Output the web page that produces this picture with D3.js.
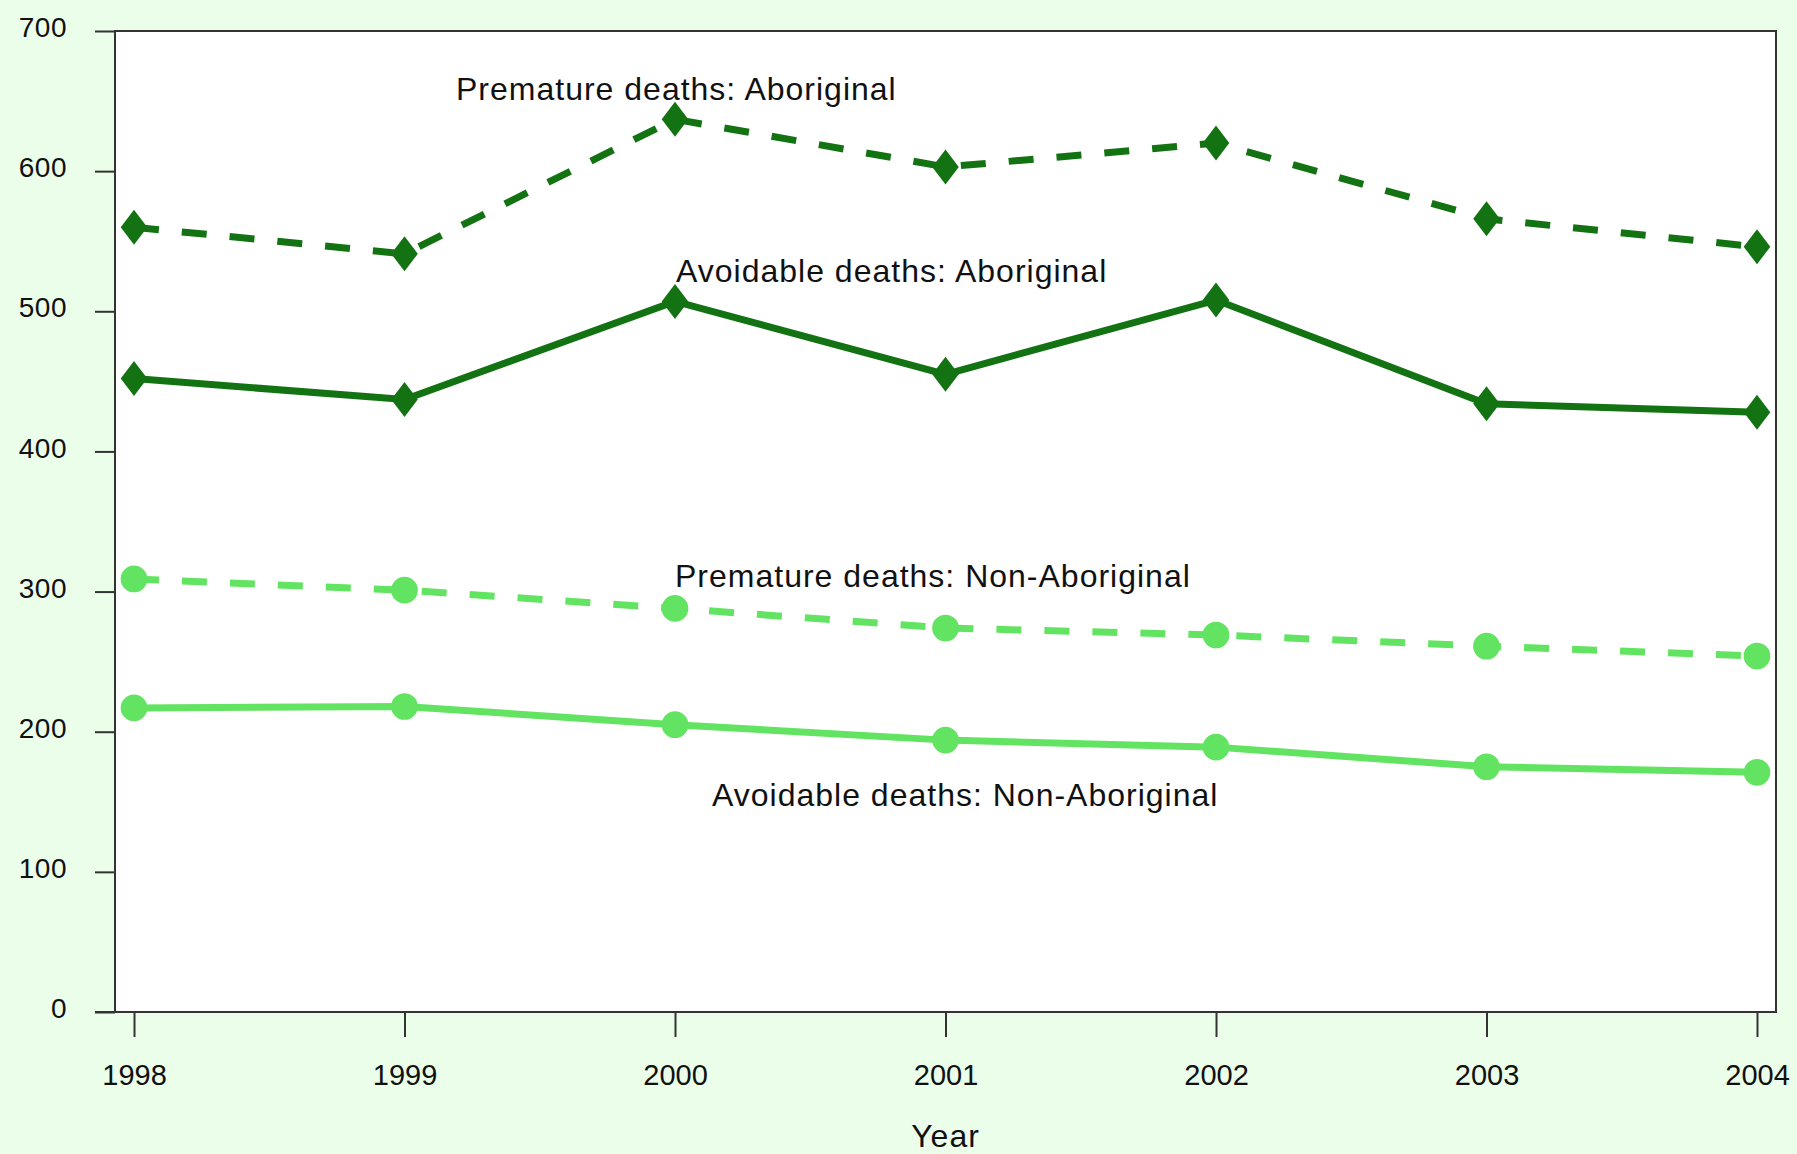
<!DOCTYPE html>
<html>
<head>
<meta charset="utf-8">
<script src="https://cdn.jsdelivr.net/npm/d3@7"></script>
<style>
  html, body { margin: 0; padding: 0; background: #eafeea; }
  svg { display: block; font-family: "Liberation Sans", Arial, sans-serif; }
</style>
</head>
<body>
<div id="chart"></div>
<script>
// data
const years = [1998, 1999, 2000, 2001, 2002, 2003, 2004];
const prematureAboriginal = [560, 541, 637, 603, 620, 566, 546];
const avoidableAboriginal = [452, 437, 507, 455, 508, 434, 428];
const prematureNonAboriginal = [309, 301, 288, 274, 269, 261, 254];
const avoidableNonAboriginal = [217, 218, 205, 194, 189, 175, 171];
const yTicks = [0, 100, 200, 300, 400, 500, 600, 700];

const seriesNames = [
    "Premature deaths: Aboriginal",
    "Avoidable deaths: Aboriginal",
    "Premature deaths: Non-Aboriginal",
    "Avoidable deaths: Non-Aboriginal"
];

const W = 1797, H = 1154;
const frame = {left: 115, right: 1776, top: 31, bottom: 1012};
const darkGreen = "#137313", lightGreen = "#62e462";

const svg = d3.select("#chart").append("svg")
    .attr("width", W)
    .attr("height", H);

svg.append("rect")
    .attr("width", W).attr("height", H)
    .attr("fill", "#eafeea");

// plot area
svg.append("rect")
    .attr("x", frame.left).attr("y", frame.top)
    .attr("width", frame.right - frame.left)
    .attr("height", frame.bottom - frame.top)
    .attr("fill", "#ffffff")
    .attr("stroke", "#333")
    .attr("stroke-width", 2);

var x = d3.scaleLinear()
    .domain([1998, 2004])
    .range([134, 1757]);

var y = d3.scaleLinear()
    .domain([0, 700])
    .range([frame.bottom, frame.top]);

// Y axis
const yAxis = svg.append("g")
    .attr("transform", `translate(${frame.left},0)`)
    .call(d3.axisLeft(y).tickValues(yTicks).tickSize(20).tickFormat(d3.format("d")));
yAxis.select(".domain").remove();
yAxis.selectAll(".tick line").attr("stroke", "#333").attr("stroke-width", 2);
yAxis.selectAll(".tick text")
    .attr("x", -48)
    .attr("dy", "0.2em")
    .attr("fill", "#111")
    .style("font-size", "28px")
    .style("letter-spacing", "0.5px")
    .style("font-family", "'Liberation Sans', Arial, sans-serif");

// X axis
const xAxis = svg.append("g")
    .attr("transform", `translate(0,${frame.bottom})`)
    .call(d3.axisBottom(x).tickValues(years).tickSize(25).tickFormat(d3.format("d")));
xAxis.select(".domain").remove();
xAxis.selectAll(".tick line").attr("stroke", "#333").attr("stroke-width", 2);
xAxis.selectAll(".tick text")
    .attr("y", 73)
    .attr("dy", 0)
    .attr("fill", "#111")
    .style("font-size", "29px")
    .style("font-family", "'Liberation Sans', Arial, sans-serif");

// axis line along the bottom extends to the tick marks on the left
svg.append("line")
    .attr("x1", frame.left - 20).attr("x2", frame.right)
    .attr("y1", frame.bottom).attr("y2", frame.bottom)
    .attr("stroke", "#333").attr("stroke-width", 2);

svg.append("text")
    .attr("x", (x(1998) + x(2004)) / 2)
    .attr("y", 1147)
    .attr("text-anchor", "middle")
    .attr("fill", "#111")
    .style("font-size", "32px")
    .style("letter-spacing", "1px")
    .text("Year");

// diamond symbol, a bit wider than d3's own
const tallDiamond = {
    draw(context, size) {
        const h = Math.sqrt(size) * 0.6, w = h * 0.76;
        context.moveTo(0, -h);
        context.lineTo(w, 0);
        context.lineTo(0, h);
        context.lineTo(-w, 0);
        context.closePath();
    }
};

const series = [
    {name: seriesNames[0], values: prematureAboriginal, color: darkGreen, dash: "25,23", symbol: tallDiamond},
    {name: seriesNames[1], values: avoidableAboriginal, color: darkGreen, dash: null, symbol: tallDiamond},
    {name: seriesNames[2], values: prematureNonAboriginal, color: lightGreen, dash: "25,23", symbol: d3.symbolCircle},
    {name: seriesNames[3], values: avoidableNonAboriginal, color: lightGreen, dash: null, symbol: d3.symbolCircle}
];

const line = d3.line()
    .x((d, i) => x(years[i]))
    .y(d => y(d));

series.forEach(s => {
    svg.append("path")
        .datum(s.values)
        .attr("fill", "none")
        .attr("stroke", s.color)
        .attr("stroke-width", 7)
        .attr("stroke-dasharray", s.dash)
        .attr("d", line);

    svg.selectAll(null)
        .data(s.values)
        .enter()
        .append("path")
            .attr("transform", (d, i) => `translate(${x(years[i])},${y(d)})`)
            .attr("d", d3.symbol().type(s.symbol).size(s.symbol === d3.symbolCircle ? 560 : 850))
            .attr("fill", s.color);
});

// series labels
const labelPos = [
    {x: 456, y: 100},
    {x: 676, y: 282},
    {x: 675, y: 587},
    {x: 712, y: 806}
];
svg.selectAll("text.lbl")
    .data(seriesNames)
    .enter()
    .append("text")
        .attr("class", "lbl")
        .attr("x", (d, i) => labelPos[i].x)
        .attr("y", (d, i) => labelPos[i].y)
        .attr("fill", "#111")
        .style("font-size", "32px")
        .style("letter-spacing", "1px")
        .text(d => d);
</script>
</body>
</html>
